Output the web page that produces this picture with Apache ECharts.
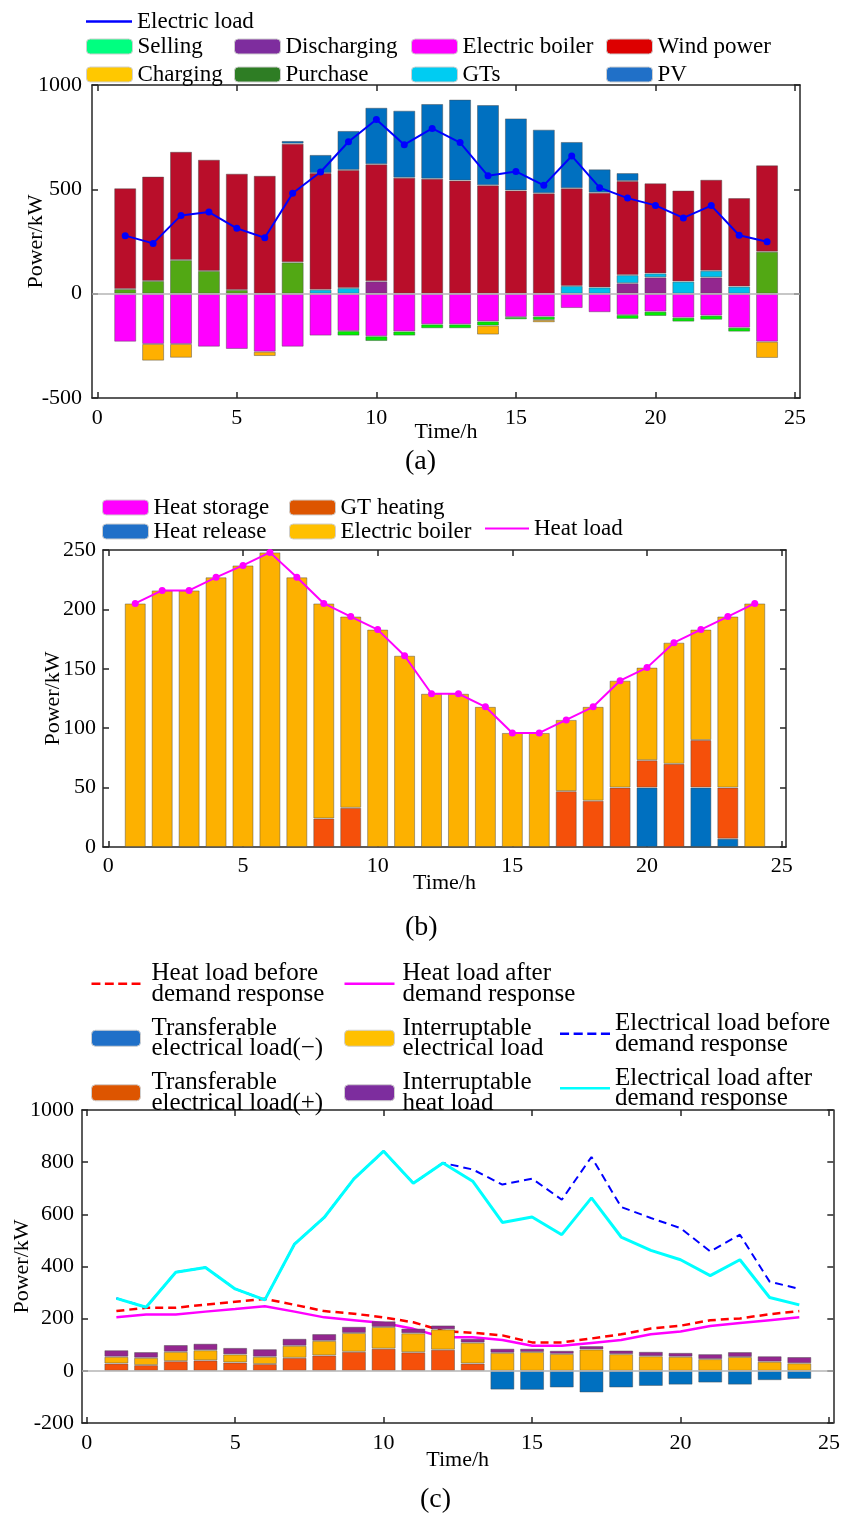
<!DOCTYPE html>
<html>
<head>
<meta charset="utf-8">
<script src="https://cdn.jsdelivr.net/npm/echarts@6/dist/echarts.min.js"></script>
<style>
html,body{margin:0;padding:0;background:#ffffff;}
#chart{width:843px;height:1515px;}
</style>
</head>
<body>
<div id="chart"></div>
<script>
// ---------------- data ----------------
const hours = [1,2,3,4,5,6,7,8,9,10,11,12,13,14,15,16,17,18,19,20,21,22,23,24];
const xTickValues = [0,5,10,15,20,25];

// Panel (a): electric power balance, kW
const aElectricLoad   = [278,241,375,391,313,268,481,583,728,835,714,792,724,565,586,519,660,508,458,423,363,422,280,249];
const aPurchase       = [22,61,161,109,18,0,150,0,0,0,0,0,0,0,0,0,0,0,0,0,0,0,0,201];
const aDischarging    = [0,0,0,0,0,0,0,0,0,59,0,0,0,0,0,0,0,0,50,78,0,78,0,0];
const aGTs            = [0,0,0,0,0,0,0,19,27,0,0,0,0,0,0,0,37,30,39,19,58,32,34,0];
const aWindPower      = [483,500,519,533,557,565,569,559,566,561,556,551,542,519,495,481,468,454,451,432,436,436,424,414];
const aPV             = [0,0,0,0,0,0,13,87,187,271,321,358,388,385,345,305,222,112,38,0,0,0,0,0];
const aElectricBoiler = [-230,-241,-241,-254,-265,-278,-254,-201,-179,-204,-181,-147,-147,-133,-112,-110,-69,-89,-102,-86,-115,-105,-163,-230];
const aSelling        = [0,0,0,0,0,0,0,0,-22,-23,-20,-19,-19,-20,-11,-16,0,0,-19,-21,-19,-20,-19,0];
const aCharging       = [0,-80,-66,0,0,-21,0,0,0,0,0,0,0,-43,0,-11,0,0,0,0,0,0,0,-78];

// Panel (b): heat balance, kW
const bHeatLoad       = [205,216,216,227,237,248,227,205,194,183,161,129,129,118,96,96,107,118,140,151,172,183,194,205];
const bHeatStorage    = [0,0,0,0,0,0,0,0,0,0,0,0,0,0,0,0,0,0,0,0,0,0,0,0];
const bHeatRelease    = [0,0,0,0,0,0,0,0,0,0,0,0,0,0,0,0,0,0,0,50,0,50,7,0];
const bGTHeating      = [0,0,0,0,0,0,0,24,33,0,0,0,0,0,0,0,47,39,50,23,70,40,43,0];
const bElectricBoiler = [205,216,216,227,237,248,227,181,161,183,161,129,129,118,96,96,60,79,90,78,102,93,144,205];

// Panel (c): demand response, kW
const cHeatBefore     = [229,242,242,254,265,276,253,229,219,205,186,153,146,136,109,109,124,140,162,173,194,201,217,229];
const cHeatAfter      = [205,216,216,227,237,248,227,205,194,183,161,129,129,118,96,96,107,118,140,151,172,183,194,205];
const cElecBefore     = [278,244,378,396,314,272,486,588,736,842,719,797,772,714,737,656,820,628,586,547,458,522,342,314];
const cElecAfter      = [278,244,378,396,314,272,486,588,736,842,719,797,727,569,590,522,663,513,462,426,365,426,281,253];
const cTransferPlus   = [28,22,37,40,32,26,50,59,73,85,71,81,28,0,0,0,0,0,0,0,0,0,0,0];
const cInterruptElec  = [26,28,36,39,31,28,46,56,72,83,73,78,80,69,72,65,82,64,56,54,45,53,35,29];
const cInterruptHeat  = [25,22,26,25,25,29,27,26,24,22,18,15,15,16,13,12,13,14,17,15,19,19,21,24];
const cTransferMinus  = [0,0,0,0,0,0,0,0,0,0,0,0,0,-72,-73,-64,-83,-64,-58,-53,-45,-53,-36,-31];

// ---------------- helpers ----------------
const FONT = '"Liberation Serif","Times New Roman",serif';
const AX = '#262626';
// bar items are [value, hour] so that the stacked dimension is the value (y) dimension
const barPts = arr => arr.map((v,i) => [v === 0 ? '-' : v, hours[i]]);
const linePts = arr => arr.map((v,i) => [hours[i], v]);
const SOLID_ICON = 'path://M0,0h50v2.5h-50z';
const DASH_ICON = 'path://M0,0h9v2.5h-9z M13.5,0h9v2.5h-9z M27,0h9v2.5h-9z M40.5,0h9v2.5h-9z';

function xAxisPair(grid, min, max, labelMargin, nameGap) {
  const base = {
    type:'value', gridIndex:grid, min:min, max:max,
    axisLine:{show:true, onZero:false, lineStyle:{color:AX, width:1.5}},
    axisTick:{show:true, inside:true, length:6, customValues:xTickValues, lineStyle:{color:AX, width:1.5}},
    splitLine:{show:false}
  };
  return [
    Object.assign({}, base, {position:'bottom',
      axisLabel:{show:true, customValues:xTickValues, margin:labelMargin, color:'#000', fontFamily:FONT, fontSize:22},
      name:'Time/h', nameLocation:'middle', nameGap:nameGap, nameMoveOverlap:false,
      nameTextStyle:{color:'#000', fontFamily:FONT, fontSize:22}}),
    Object.assign({}, base, {position:'top', axisLabel:{show:false}})
  ];
}
function yAxisPair(grid, min, max, interval, labelMargin, nameGap) {
  const base = {
    type:'value', gridIndex:grid, min:min, max:max, interval:interval,
    axisLine:{show:true, onZero:false, lineStyle:{color:AX, width:1.5}},
    axisTick:{show:true, inside:true, length:6, lineStyle:{color:AX, width:1.5}},
    splitLine:{show:false}
  };
  return [
    Object.assign({}, base, {position:'left',
      axisLabel:{show:true, margin:labelMargin, color:'#000', fontFamily:FONT, fontSize:22,
                 formatter: v => String(v)},
      name:'Power/kW', nameLocation:'middle', nameGap:nameGap, nameRotate:90, nameMoveOverlap:false,
      nameTextStyle:{color:'#000', fontFamily:FONT, fontSize:22}}),
    Object.assign({}, base, {position:'right', axisLabel:{show:false}})
  ];
}
function bar(name, arr, color, axis, stack, width, extra) {
  return Object.assign({
    type:'bar', name:name, xAxisIndex:axis, yAxisIndex:axis, stack:stack,
    barWidth:width, data:barPts(arr), encode:{x:1, y:0}, z:2,
    itemStyle:{color:color, borderColor:'rgba(70,70,70,0.45)', borderWidth:1}
  }, extra || {});
}
const zeroLine = {silent:true, symbol:'none', label:{show:false},
  lineStyle:{color:'#b5b5b5', type:'solid', width:1.5}, data:[{yAxis:0}]};

function legend(left, top, data, opts) {
  return Object.assign({
    orient:'vertical', left:left, top:top, padding:0, itemGap:5,
    itemWidth:46, itemHeight:15, selectedMode:false, data:data,
    textStyle:{color:'#000', fontFamily:FONT, fontSize:23, lineHeight:22}
  }, opts || {});
}
const sw = (name, color) => ({name:name, itemStyle:{color:color, borderColor:'#cfcfcf', borderWidth:1}});
const ln = (name, dashed) => ({name:name, icon: dashed ? DASH_ICON : SOLID_ICON});

// ---------------- option ----------------
const titleStyle = {fontFamily:FONT, fontSize:28, fontWeight:'normal', color:'#000'};
const option = {
  animation:false,
  backgroundColor:'#ffffff',
  title:[
    {text:'(a)', left:405, top:448, padding:0, textStyle:titleStyle},
    {text:'(b)', left:405, top:914, padding:0, textStyle:titleStyle},
    {text:'(c)', left:420, top:1486, padding:0, textStyle:titleStyle}
  ],
  grid:[
    {left:92, top:85, width:708, height:313},
    {left:103, top:550, width:683, height:297},
    {left:82, top:1110, width:752, height:313}
  ],
  xAxis:[].concat(
    xAxisPair(0, -0.19, 25.18, 9, 23),
    xAxisPair(1, -0.197, 25.16, 8, 25),
    xAxisPair(2, -0.158, 25.145, 9, 26)
  ),
  yAxis:[].concat(
    yAxisPair(0, -500, 1000, 500, 10, 45),
    yAxisPair(1, 0, 250, 50, 7, 39),
    yAxisPair(2, -200, 1000, 200, 8, 49)
  ),
  legend:[
    // (a)
    legend(86, 10, [ln('Electric load')]),
    legend(86, 35, [sw('Selling','#00FF80'), sw('Charging','#FFC800')]),
    legend(234, 35, [sw('Discharging','#7E2D9E'), sw('Purchase','#2E7D24')]),
    legend(411, 35, [sw('Electric boiler','#FF00FF'), sw('GTs','#00CCF2')]),
    legend(606, 35, [sw('Wind power','#DD0000'), sw('PV','#2070C8')]),
    // (b)
    legend(102, 496, [sw('Heat storage','#FF00FF'), sw('Heat release','#2070C8')],
      {itemGap:1, textStyle:{color:'#000', fontFamily:FONT, fontSize:23, lineHeight:20}}),
    legend(289, 496, [sw('GT heating','#DD5500'), sw('Electric boiler','#FFC000')],
      {itemGap:1, textStyle:{color:'#000', fontFamily:FONT, fontSize:23, lineHeight:20}}),
    legend(485, 517, [ln('Heat load')],
      {itemWidth:44, textStyle:{color:'#000', fontFamily:FONT, fontSize:23, lineHeight:20}}),
    // (c)
    legend(91, 961, [ln('Heat load before\ndemand response', true), sw('Transferable\nelectrical load(\u2212)','#2070C8'), sw('Transferable\nelectrical load(+)','#DD5500')],
      {itemWidth:49, itemHeight:16, itemGap:9, textStyle:{color:'#000', fontFamily:FONT, fontSize:25, lineHeight:20.5, padding:[0,0,0,6]}}),
    legend(344, 961, [ln('Heat load after\ndemand response'), sw('Interruptable\nelectrical load','#FFC000'), sw('Interruptable\nheat load','#7D2D9E')],
      {itemWidth:50, itemHeight:16, itemGap:9, textStyle:{color:'#000', fontFamily:FONT, fontSize:25, lineHeight:20.5, padding:[0,0,0,3]}}),
    legend(560, 1011, [ln('Electrical load before\ndemand response', true), ln('Electrical load after\ndemand response')],
      {itemWidth:50, itemHeight:16, itemGap:9, textStyle:{color:'#000', fontFamily:FONT, fontSize:25, lineHeight:20.5}})
  ],
  series:[
    // ----- (a) -----
    bar('Purchase', aPurchase, '#52A814', 0, 'a', 22),
    bar('Discharging', aDischarging, '#93278F', 0, 'a', 22),
    bar('GTs', aGTs, '#00BEEB', 0, 'a', 22),
    bar('Wind power', aWindPower, '#B90E2A', 0, 'a', 22),
    bar('PV', aPV, '#0070C0', 0, 'a', 22),
    bar('Electric boiler', aElectricBoiler, '#FF00FF', 0, 'a', 22),
    bar('Selling', aSelling, '#00EE00', 0, 'a', 22),
    bar('Charging', aCharging, '#FFB000', 0, 'a', 22),
    {type:'line', name:'Electric load', xAxisIndex:0, yAxisIndex:0, z:5,
     data:linePts(aElectricLoad), color:'#0000FF', symbol:'circle', symbolSize:7,
     lineStyle:{color:'#0000FF', width:2}, itemStyle:{color:'#0000FF'}, markLine:zeroLine},
    // ----- (b) -----
    bar('Heat release', bHeatRelease, '#0070C0', 2, 'b', 21),
    bar('GT heating', bGTHeating, '#F5500A', 2, 'b', 21),
    bar('Electric boiler', bElectricBoiler, '#FDB100', 2, 'b', 21),
    bar('Heat storage', bHeatStorage, '#FF00FF', 2, 'b', 21),
    {type:'line', name:'Heat load', xAxisIndex:2, yAxisIndex:2, z:5,
     data:linePts(bHeatLoad), color:'#FF00FF', symbol:'circle', symbolSize:7,
     lineStyle:{color:'#FF00FF', width:2}, itemStyle:{color:'#FF00FF'}},
    // ----- (c) -----
    {type:'line', name:'Heat load before\ndemand response', xAxisIndex:4, yAxisIndex:4, z:1,
     data:linePts(cHeatBefore), color:'#FF0000', symbol:'none',
     lineStyle:{color:'#FF0000', width:2.5, type:[8,5]}},
    {type:'line', name:'Heat load after\ndemand response', xAxisIndex:4, yAxisIndex:4, z:1,
     data:linePts(cHeatAfter), color:'#FF00FF', symbol:'none',
     lineStyle:{color:'#FF00FF', width:2.5}},
    {type:'line', name:'Electrical load before\ndemand response', xAxisIndex:4, yAxisIndex:4, z:1,
     data:linePts(cElecBefore), color:'#0000FF', symbol:'none',
     lineStyle:{color:'#0000FF', width:2, type:[8,5]}},
    {type:'line', name:'Electrical load after\ndemand response', xAxisIndex:4, yAxisIndex:4, z:1,
     data:linePts(cElecAfter), color:'#00FFFF', symbol:'none',
     lineStyle:{color:'#00FFFF', width:3}},
    bar('Transferable\nelectrical load(+)', cTransferPlus, '#F5500A', 4, 'c', 24),
    bar('Interruptable\nelectrical load', cInterruptElec, '#FDB100', 4, 'c', 24),
    bar('Interruptable\nheat load', cInterruptHeat, '#93278F', 4, 'c', 24),
    bar('Transferable\nelectrical load(\u2212)', cTransferMinus, '#0070C0', 4, 'c', 24, {markLine:zeroLine})
  ]
};

const chart = echarts.init(document.getElementById('chart'), null, {renderer:'canvas', width:843, height:1515});
chart.setOption(option);
</script>
</body>
</html>
